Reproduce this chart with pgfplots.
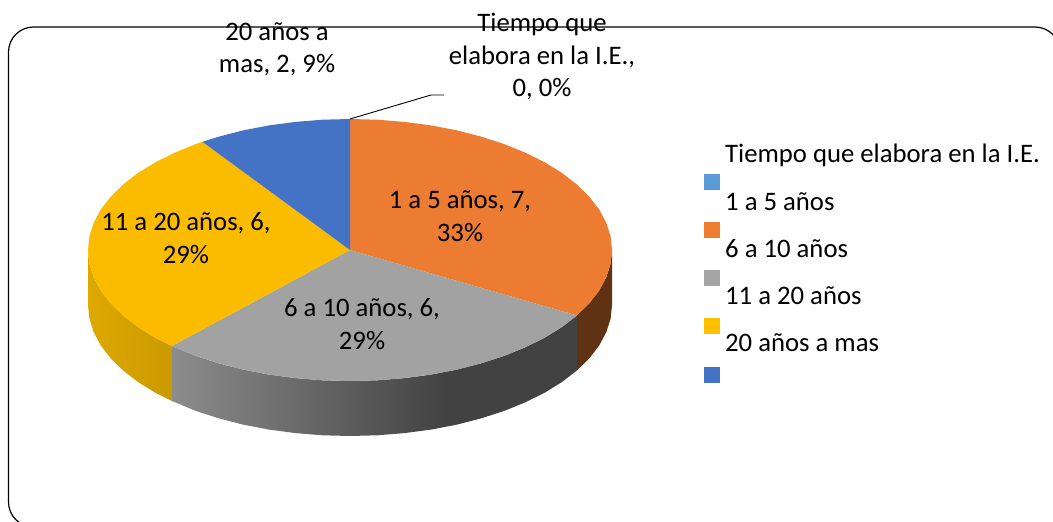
\documentclass[border=0pt]{standalone}
\usepackage{fontspec}
\setmainfont{Carlito}
\usepackage{pgfplots}
\pgfplotsset{compat=1.18}

\definecolor{c1}{HTML}{5B9BD5}
\definecolor{c2}{HTML}{ED7D31}
\definecolor{c3}{HTML}{A5A5A5}
\definecolor{c4}{HTML}{FFC000}
\definecolor{c5}{HTML}{4472C4}
\definecolor{orangetop}{HTML}{EB7C31}
\definecolor{graytop}{HTML}{A2A2A2}
\definecolor{yellowtop}{HTML}{FBBC00}
\definecolor{orangeside}{HTML}{5F3213}
\definecolor{grayL}{HTML}{8C8C8C}
\definecolor{grayD}{HTML}{424242}
\definecolor{yellowL}{HTML}{DDA800}
\definecolor{yellowD}{HTML}{CB9A00}

% gradient on the front wall of the gray slice
\pgfdeclarehorizontalshading{grayside}{100bp}{color(0bp)=(grayL); color(25bp)=(grayL); color(59bp)=(grayD); color(100bp)=(grayD)}

\tikzset{lab/.style={font=\fontsize{26.7}{32.5}\selectfont, align=center, text=black, inner sep=0pt}}

\begin{document}
\begin{tikzpicture}
\begin{axis}[
  width=1053pt, height=522pt, scale only axis,
  xmin=0, xmax=1053, ymin=0, ymax=522,
  y dir=reverse,
  hide axis,
  every axis plot/.append style={forget plot},
]

% walls
\addplot[draw=none, fill=orangeside] coordinates {
(612,250) (610.6,263.7) (606.3,277.2) (599.2,290.5) (589.3,303.3) (576.9,315.5)
(576.9,370.5) (589.3,358.3) (599.2,345.5) (606.3,332.2) (610.6,318.7) (612,305)} --cycle;
\addplot[draw=none, shading=grayside] coordinates {
(576.9,315.5) (562,327) (544.7,337.7) (525.3,347.3) (504,356) (481,363.4) (456.6,369.7) (431,374.6)
(404.5,378.1) (377.4,380.3) (350,381) (322.6,380.3) (295.5,378.1) (269,374.6) (243.4,369.7) (219,363.4)
(196,356) (171.9,346)
(171.9,401) (196,411) (219,418.4) (243.4,424.7) (269,429.6) (295.5,433.1) (322.6,435.3) (350,436)
(377.4,435.3) (404.5,433.1) (431,429.6) (456.6,424.7) (481,418.4) (504,411) (525.3,402.3) (544.7,392.7)
(562,382) (576.9,370.5)} --cycle;
\addplot[draw=none, left color=yellowL, right color=yellowD] coordinates {
(171.9,346) (155.3,337.7) (138,327) (123.1,315.5) (110.7,303.3) (100.8,290.5) (93.7,277.2) (89.4,263.7) (88,250)
(88,305) (89.4,318.7) (93.7,332.2) (100.8,345.5) (110.7,358.3) (123.1,370.5) (138,382) (155.3,392.7) (171.9,401)} --cycle;

% top face: 1 a 5 anos 7, 6 a 10 anos 6, 11 a 20 anos 6, 20 anos a mas 2
\addplot[draw=none, fill=orangetop] coordinates {
(350,250) (350,119) (377.4,119.7) (404.5,121.9) (431,125.4) (456.6,130.3) (481,136.6) (504,144) (525.3,152.7)
(544.7,162.3) (562,173) (576.9,184.5) (589.3,196.7) (599.2,209.5) (606.3,222.8) (610.6,236.3) (612,250)
(610.6,263.7) (606.3,277.2) (599.2,290.5) (589.3,303.3) (576.9,315.5)} --cycle;
\addplot[draw=none, fill=graytop] coordinates {
(350,250) (576.9,315.5) (562,327) (544.7,337.7) (525.3,347.3) (504,356) (481,363.4) (456.6,369.7) (431,374.6)
(404.5,378.1) (377.4,380.3) (350,381) (322.6,380.3) (295.5,378.1) (269,374.6) (243.4,369.7) (219,363.4)
(196,356) (171.9,346)} --cycle;
\addplot[draw=none, fill=yellowtop] coordinates {
(350,250) (171.9,346) (155.3,337.7) (138,327) (123.1,315.5) (110.7,303.3) (100.8,290.5) (93.7,277.2) (89.4,263.7)
(88,250) (89.4,236.3) (93.7,222.8) (100.8,209.5) (110.7,196.7) (123.1,184.5) (138,173) (155.3,162.3) (174.7,152.7)
(196,144) (202.4,141.8)} --cycle;
\addplot[draw=none, fill=c5] coordinates {
(350,250) (202.4,141.8) (219,136.6) (243.4,130.3) (269,125.4) (295.5,121.9) (322.6,119.7) (350,119)} --cycle;

% leader line of the zero slice
\addplot[black, line width=0.9pt] coordinates {(350,119) (431,95) (444,95)};

% legend keys
\addplot[only marks, mark=square*, mark size=7.5pt, c1, mark options={draw=none, fill=c1}] coordinates {(711.5,181.5)};
\addplot[only marks, mark=square*, mark size=7.5pt, c2, mark options={draw=none, fill=c2}] coordinates {(711.5,229.5)};
\addplot[only marks, mark=square*, mark size=7.5pt, c3, mark options={draw=none, fill=c3}] coordinates {(711.5,277.5)};
\addplot[only marks, mark=square*, mark size=7.5pt, c4, mark options={draw=none, fill=c4}] coordinates {(711.5,325.5)};
\addplot[only marks, mark=square*, mark size=7.5pt, c5, mark options={draw=none, fill=c5}] coordinates {(711.5,374.5)};

% frame of the chart area
\draw[black, line width=1.2pt, rounded corners=25pt] (axis cs:200,527) -- (axis cs:8.5,527) -- (axis cs:8.5,27) -- (axis cs:1060,27) -- (axis cs:1060,527);

% data labels
\node[lab] at (axis cs:460,216) {1 a 5 años, 7,\\33\%};
\node[lab] at (axis cs:186,238) {11 a 20 años, 6,\\29\%};
\node[lab] at (axis cs:362,324) {6 a 10 años, 6,\\29\%};
\node[lab] at (axis cs:277,49.5) {20 años a\\mas, 2, 9\%};
\node[lab] at (axis cs:542,57) {Tiempo que\\elabora en la I.E.,\\0, 0\%};

% legend texts
\node[lab, anchor=west] at (axis cs:725,155) {Tiempo que elabora en la I.E.};
\node[lab, anchor=west] at (axis cs:725,202) {1 a 5 años};
\node[lab, anchor=west] at (axis cs:725,249) {6 a 10 años};
\node[lab, anchor=west] at (axis cs:725,296) {11 a 20 años};
\node[lab, anchor=west] at (axis cs:725,343) {20 años a mas};
\end{axis}
\pgfresetboundingbox
\useasboundingbox (0,0) rectangle (1053pt,522pt);
\end{tikzpicture}
\end{document}
